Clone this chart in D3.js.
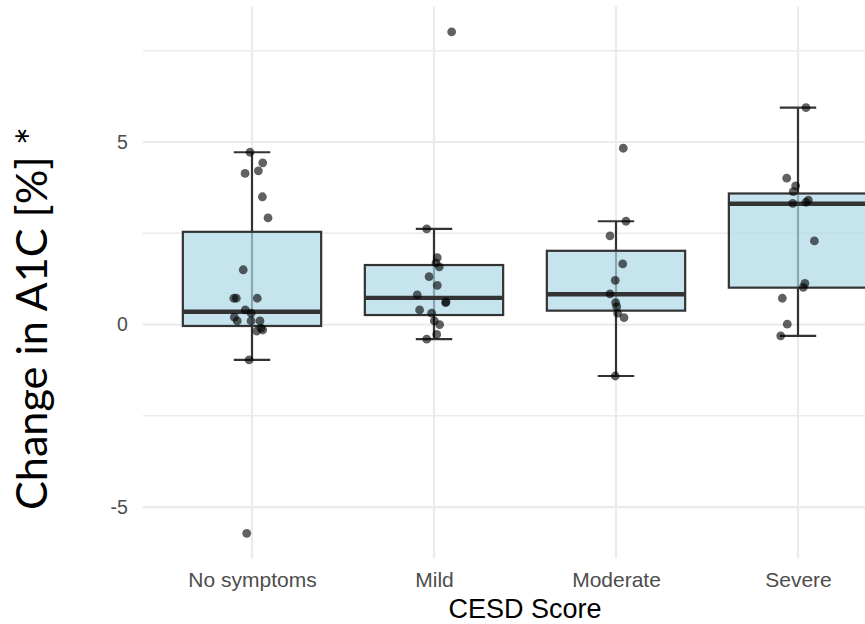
<!DOCTYPE html>
<html>
<head>
<meta charset="utf-8">
<script src="https://cdn.jsdelivr.net/npm/d3@7"></script>
<style>
  html, body { margin: 0; padding: 0; background: #fff; }
  svg { display: block; }
</style>
</head>
<body>
<svg id="chart" width="865" height="624"></svg>
<script>
const categories = ['No symptoms', 'Mild', 'Moderate', 'Severe'];

// box stats
const lowerWhisker = [-0.97, -0.40, -1.41, -0.31];
const q1 = [-0.04, 0.26, 0.38, 1.01];
const median = [0.35, 0.73, 0.83, 3.31];
const q3 = [2.54, 1.63, 2.02, 3.59];
const upperWhisker = [4.72, 2.62, 2.83, 5.94];

// individual observations, with their horizontal jitter (in category widths)
const noSymptomsValues = [4.72, 4.43, 4.21, 4.14, 3.50, 2.92, 1.50, 0.72, 0.72, 0.72, 0.40, 0.31, 0.20, 0.10, 0.10, 0.10, -0.18, -0.15, -0.10, -0.97, -5.72];
const noSymptomsJitter = [-0.011, 0.059, 0.035, -0.038, 0.057, 0.088, -0.048, -0.100, -0.086, 0.029, -0.037, -0.005, -0.097, -0.081, -0.005, 0.044, 0.026, 0.059, 0.049, -0.016, -0.029];
const mildValues = [8.02, 2.62, 1.83, 1.69, 1.58, 1.31, 1.07, 0.81, 0.60, 0.62, 0.40, 0.31, 0.10, 0.00, -0.27, -0.40];
const mildJitter = [0.097, -0.040, 0.018, 0.011, 0.029, -0.027, 0.018, -0.092, 0.064, 0.066, -0.079, -0.013, 0.002, 0.031, 0.015, -0.040];
const moderateValues = [4.83, 2.83, 2.43, 1.66, 1.21, 0.84, 0.60, 0.49, 0.31, 0.19, -1.41];
const moderateJitter = [0.040, 0.055, -0.033, 0.037, -0.004, -0.033, -0.002, 0.004, 0.009, 0.044, -0.004];
const severeValues = [5.94, 4.01, 3.80, 3.64, 3.41, 3.35, 3.32, 2.29, 1.13, 1.02, 0.72, 0.01, -0.31];
const severeJitter = [0.044, -0.062, -0.013, -0.026, 0.057, 0.044, -0.029, 0.090, 0.038, 0.029, -0.086, -0.059, -0.095];

const yTicks = [-5, 0, 5];
const yMinorTicks = [-2.5, 2.5, 7.5];

const groups = [
  { values: noSymptomsValues, jitter: noSymptomsJitter },
  { values: mildValues, jitter: mildJitter },
  { values: moderateValues, jitter: moderateJitter },
  { values: severeValues, jitter: severeJitter }
];

const boxes = categories.map((name, i) => ({
  name,
  lo: lowerWhisker[i], q1: q1[i], med: median[i], q3: q3[i], hi: upperWhisker[i]
}));

const points = [];
groups.forEach((g, i) => {
  g.values.forEach((v, j) => points.push({ name: categories[i], value: v, jitter: g.jitter[j] }));
});

const svg = d3.select('#chart');

const panel = { left: 142.8, right: 907.2, top: 6.6, bottom: 558.5 };

const x = d3.scalePoint()
  .domain(categories)
  .range([panel.left, panel.right])
  .padding(0.6);

const y = d3.scaleLinear()
  .domain([-6.41, 8.71])
  .range([panel.bottom, panel.top]);

const step = x.step();
const boxWidth = step * 0.76;
const capWidth = step * 0.2;
const gridColor = '#ebebeb';

// grid
svg.append('g')
  .selectAll('line')
  .data(yMinorTicks)
  .join('line')
  .attr('x1', panel.left).attr('x2', panel.right)
  .attr('y1', d => y(d)).attr('y2', d => y(d))
  .attr('stroke', gridColor)
  .attr('stroke-width', 1.4);

svg.append('g')
  .selectAll('line')
  .data(yTicks)
  .join('line')
  .attr('x1', panel.left).attr('x2', panel.right)
  .attr('y1', d => y(d)).attr('y2', d => y(d))
  .attr('stroke', gridColor)
  .attr('stroke-width', 2.2);

svg.append('g')
  .selectAll('line')
  .data(categories)
  .join('line')
  .attr('x1', d => x(d)).attr('x2', d => x(d))
  .attr('y1', panel.top).attr('y2', panel.bottom)
  .attr('stroke', gridColor)
  .attr('stroke-width', 2.2);

// axes (text only, like theme_minimal)
const yAxis = svg.append('g')
  .attr('transform', `translate(${panel.left - 4},0)`)
  .call(d3.axisLeft(y).tickValues(yTicks).tickSize(0).tickPadding(11).tickFormat(d => String(d)));
yAxis.select('.domain').remove();
yAxis.selectAll('text')
  .attr('fill', '#4d4d4d')
  .attr('font-family', 'Liberation Sans, Arial, sans-serif')
  .attr('font-size', 19.5);

const xAxis = svg.append('g')
  .attr('transform', `translate(0,${panel.bottom})`)
  .call(d3.axisBottom(x).tickSize(0).tickPadding(14));
xAxis.select('.domain').remove();
xAxis.selectAll('text')
  .attr('fill', '#4d4d4d')
  .attr('font-family', 'Liberation Sans, Arial, sans-serif')
  .attr('font-size', 21);

// error bars
const errorbars = svg.append('g')
  .selectAll('g')
  .data(boxes)
  .join('g')
  .attr('stroke', '#333')
  .attr('stroke-width', 2.2);

errorbars.append('line')
  .attr('x1', d => x(d.name)).attr('x2', d => x(d.name))
  .attr('y1', d => y(d.lo)).attr('y2', d => y(d.hi));
errorbars.append('line')
  .attr('x1', d => x(d.name) - capWidth / 2).attr('x2', d => x(d.name) + capWidth / 2)
  .attr('y1', d => y(d.lo)).attr('y2', d => y(d.lo));
errorbars.append('line')
  .attr('x1', d => x(d.name) - capWidth / 2).attr('x2', d => x(d.name) + capWidth / 2)
  .attr('y1', d => y(d.hi)).attr('y2', d => y(d.hi));

// boxes
const boxG = svg.append('g')
  .selectAll('g')
  .data(boxes)
  .join('g');

boxG.append('rect')
  .attr('x', d => x(d.name) - boxWidth / 2)
  .attr('width', boxWidth)
  .attr('y', d => y(d.q3))
  .attr('height', d => y(d.q1) - y(d.q3))
  .attr('fill', 'lightblue')
  .attr('fill-opacity', 0.7)
  .attr('stroke', '#333')
  .attr('stroke-width', 2.2);

boxG.append('line')
  .attr('x1', d => x(d.name) - boxWidth / 2).attr('x2', d => x(d.name) + boxWidth / 2)
  .attr('y1', d => y(d.med)).attr('y2', d => y(d.med))
  .attr('stroke', '#333')
  .attr('stroke-width', 4.4);

// jittered points
svg.append('g')
  .selectAll('circle')
  .data(points)
  .join('circle')
  .attr('cx', d => x(d.name) + d.jitter * step)
  .attr('cy', d => y(d.value))
  .attr('r', 4.4)
  .attr('fill', '#000')
  .attr('fill-opacity', 0.62);

// titles
svg.append('text')
  .attr('x', (panel.left + panel.right) / 2)
  .attr('y', 617.5)
  .attr('text-anchor', 'middle')
  .attr('font-family', 'Liberation Sans, Arial, sans-serif')
  .attr('font-size', 27)
  .attr('fill', '#000')
  .text('CESD Score');

svg.append('text')
  .attr('transform', 'translate(47,318.5) rotate(-90)')
  .attr('text-anchor', 'middle')
  .attr('font-family', 'Lato, Open Sans, sans-serif')
  .attr('font-size', 43)
  .attr('fill', '#000')
  .attr('textLength', 383)
  .attr('lengthAdjust', 'spacingAndGlyphs')
  .text('Change in A1C [%] *');
</script>
</body>
</html>
